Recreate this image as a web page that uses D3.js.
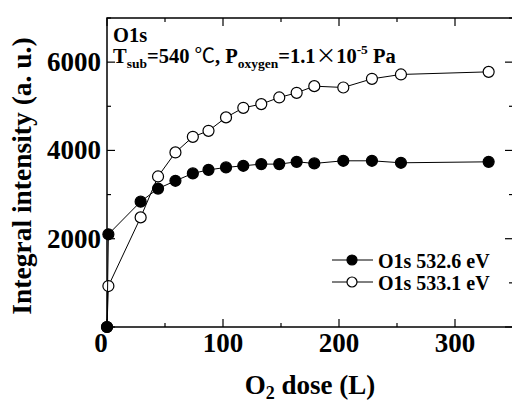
<!doctype html>
<html>
<head>
<meta charset="utf-8">
<title>O1s intensity vs O2 dose</title>
<script src="https://d3js.org/d3.v7.min.js"></script>
<style>
  body { margin: 0; background: #fff; }
  svg text { font-family: "Liberation Serif", "Times New Roman", serif; font-weight: bold; fill: #000; }
</style>
</head>
<body>
<svg width="512" height="403"></svg>
<script>
// O2 dose (L) - shared by both series
const dose = [0, 1.2, 29, 44, 59, 74, 87.5, 102.6, 117.5, 133, 148.5, 163.5, 178.7, 203.7, 228.4, 253.4, 329];
// O1s 532.6 eV (filled)
const o1s5326 = [0, 2100, 2840, 3135, 3312, 3480, 3560, 3615, 3652, 3690, 3690, 3742, 3706, 3765, 3765, 3720, 3742];
// O1s 533.1 eV (open)
const o1s5331 = [0, 928, 2483, 3410, 3955, 4308, 4444, 4748, 4965, 5049, 5200, 5305, 5456, 5426, 5622, 5721, 5780];

const xTicks = [0, 100, 200, 300];
const yTicks = [2000, 4000, 6000];

const svg = d3.select("svg");
const pLeft = 107, pRight = 513, pTop = 18, pBottom = 327;

const x = d3.scaleLinear().domain([0, 350]).range([pLeft, pRight]);
const y = d3.scaleLinear().domain([0, 7000]).range([pBottom, pTop]);

// frame
svg.append("rect")
  .attr("x", pLeft).attr("y", pTop)
  .attr("width", pRight - pLeft).attr("height", pBottom - pTop)
  .attr("fill", "none").attr("stroke", "#000").attr("stroke-width", 1.5);

// inward ticks, major and minor
const xMajor = d3.range(0, 351, 100), xMinor = d3.range(50, 351, 100);
const yMajor = d3.range(0, 7001, 2000), yMinor = d3.range(1000, 7001, 2000);
const tickG = svg.append("g").attr("stroke", "#000").attr("stroke-width", 1.2);
xMajor.concat(xMinor).forEach(v => {
  const len = xMajor.includes(v) ? 8 : 4;
  tickG.append("line").attr("x1", x(v)).attr("x2", x(v)).attr("y1", pBottom).attr("y2", pBottom - len);
  tickG.append("line").attr("x1", x(v)).attr("x2", x(v)).attr("y1", pTop).attr("y2", pTop + len);
});
yMajor.concat(yMinor).forEach(v => {
  const len = yMajor.includes(v) ? 8 : 4;
  tickG.append("line").attr("y1", y(v)).attr("y2", y(v)).attr("x1", pLeft).attr("x2", pLeft + len);
  tickG.append("line").attr("y1", y(v)).attr("y2", y(v)).attr("x1", pRight).attr("x2", pRight - len);
});

// tick labels
svg.append("g").selectAll("text").data(xTicks).join("text")
  .attr("x", d => x(d) - (d === 0 ? 6 : 0)).attr("y", 352)
  .attr("text-anchor", "middle").attr("font-size", 27)
  .text(d => d);
svg.append("g").selectAll("text").data(yTicks).join("text")
  .attr("x", 101).attr("y", d => y(d) + 9)
  .attr("text-anchor", "end").attr("font-size", 27)
  .text(d => d);

// axis titles
const xt = svg.append("text").attr("x", 310).attr("y", 394)
  .attr("text-anchor", "middle").attr("font-size", 27);
xt.append("tspan").text("O");
xt.append("tspan").attr("font-size", 18).attr("dy", 5).text("2");
xt.append("tspan").attr("dy", -5).text(" dose (L)");

svg.append("text")
  .attr("transform", "translate(31,176) rotate(-90)")
  .attr("text-anchor", "middle").attr("font-size", 27.5)
  .text("Integral intensity (a. u.)");

// series
const line = d3.line().x(d => x(d[0])).y(d => y(d[1]));
const series = [
  { vals: o1s5331, fill: "#fff" },
  { vals: o1s5326, fill: "#000" }
];
series.forEach(s => {
  const pts = dose.map((d, i) => [d, s.vals[i]]);
  svg.append("path").datum(pts).attr("d", line)
    .attr("fill", "none").attr("stroke", "#000").attr("stroke-width", 1);
  svg.append("g").selectAll("circle").data(pts).join("circle")
    .attr("cx", d => x(d[0])).attr("cy", d => y(d[1])).attr("r", 5.5)
    .attr("fill", s.fill).attr("stroke", "#000").attr("stroke-width", 1.2);
});

// annotation
svg.append("text").attr("x", 113).attr("y", 42).attr("font-size", 20.5).text("O1s");
const ann = svg.append("text").attr("x", 113).attr("y", 62.5).attr("font-size", 20.5);
ann.append("tspan").text("T");
ann.append("tspan").attr("font-size", 13.5).attr("dy", 5).text("sub");
ann.append("tspan").attr("dy", -5).text("=540 ");
ann.append("tspan").attr("style", "font-family:'Noto Sans CJK JP'").attr("font-weight", "normal").text("℃");
ann.append("tspan").text(", P");
ann.append("tspan").attr("font-size", 13.5).attr("dy", 5).text("oxygen");
ann.append("tspan").attr("dy", -5).text("=1.1");
ann.append("tspan").attr("style", "font-family:'Noto Sans CJK JP'").attr("font-weight", "normal").text("×");
ann.append("tspan").text("10");
ann.append("tspan").attr("font-size", 13.5).attr("dy", -9).text("-5");
ann.append("tspan").attr("dy", 9).text(" Pa");

// legend
const legend = [
  { label: "O1s 532.6 eV", fill: "#000", yy: 260 },
  { label: "O1s 533.1 eV", fill: "#fff", yy: 282 }
];
legend.forEach(l => {
  svg.append("line").attr("x1", 332).attr("x2", 373).attr("y1", l.yy).attr("y2", l.yy)
    .attr("stroke", "#000").attr("stroke-width", 1);
  svg.append("circle").attr("cx", 352).attr("cy", l.yy).attr("r", 5)
    .attr("fill", l.fill).attr("stroke", "#000").attr("stroke-width", 1.2);
  svg.append("text").attr("x", 378).attr("y", l.yy + 7.5).attr("font-size", 20).text(l.label);
});
</script>
</body>
</html>
